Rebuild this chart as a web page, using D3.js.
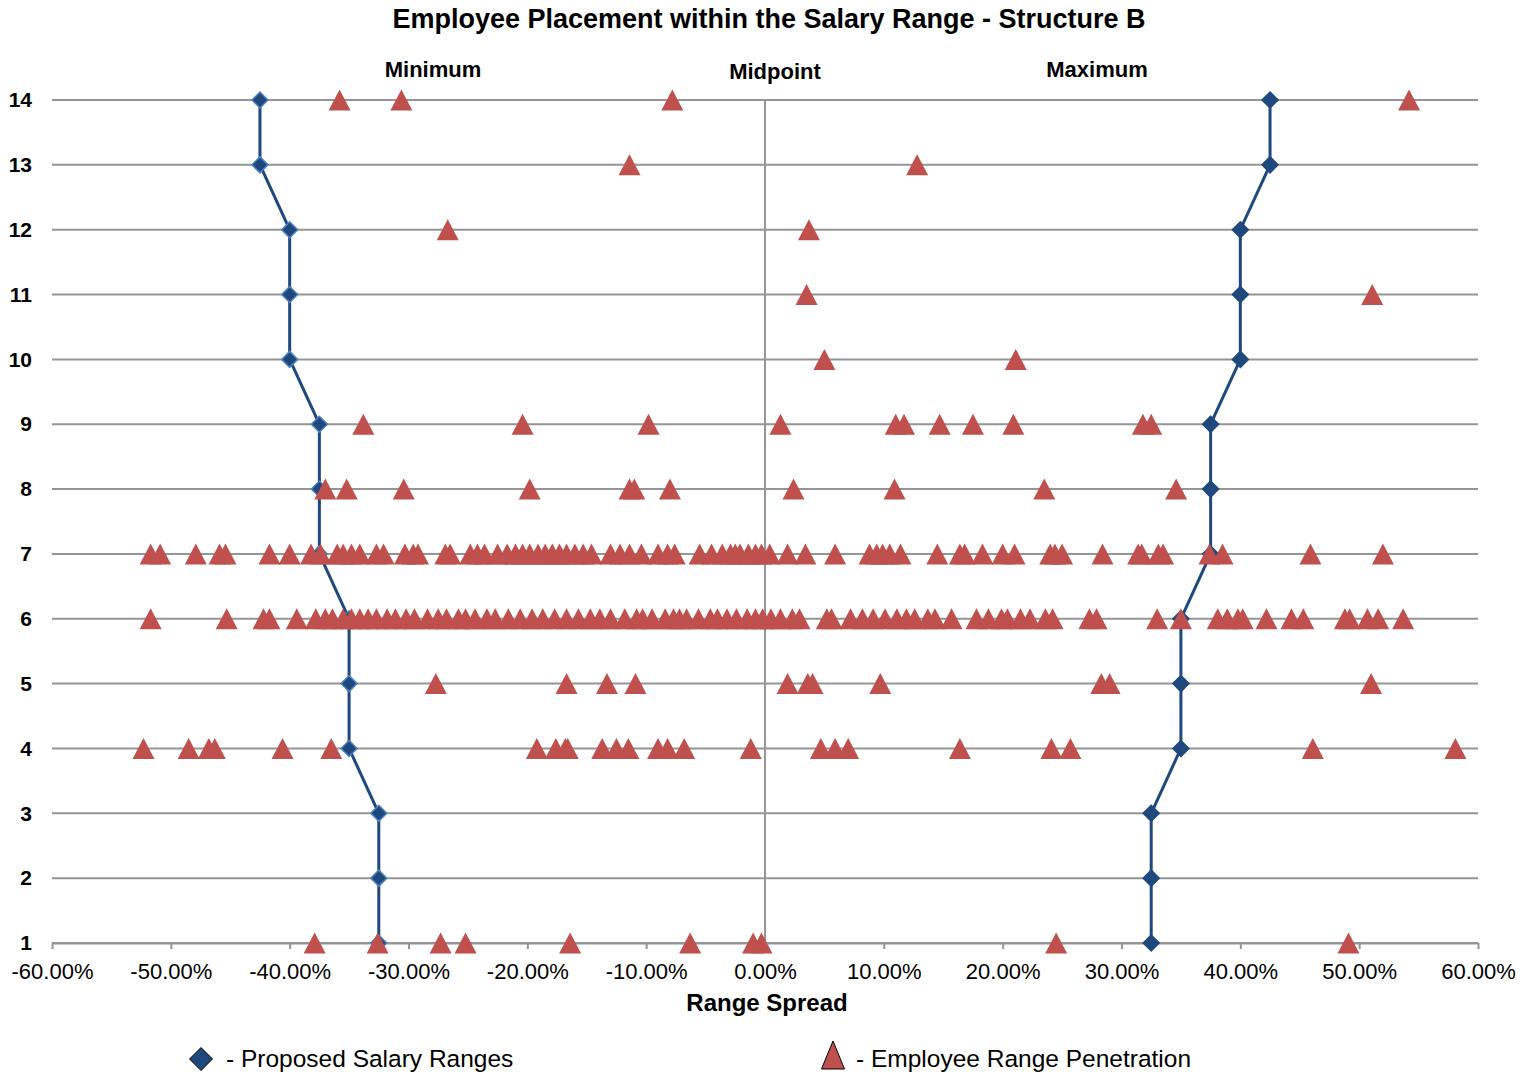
<!DOCTYPE html>
<html>
<head>
<meta charset="utf-8">
<script src="https://cdn.jsdelivr.net/npm/d3@7"></script>
<style>
  body { margin: 0; background: #fff; }
  text { font-family: "Liberation Sans", Arial, Helvetica, sans-serif; }
</style>
</head>
<body>
<svg id="chart" width="1522" height="1077"></svg>
<script>
// Salary grades (y) and proposed range spread from midpoint, in percent
const grades   = [1, 2, 3, 4, 5, 6, 7, 8, 9, 10, 11, 12, 13, 14];
const rangeMin = [-32.5, -32.5, -32.5, -35, -35, -35, -37.5, -37.5, -37.5, -40, -40, -40, -42.5, -42.5];
const rangeMax = [32.5, 32.5, 32.5, 35, 35, 35, 37.5, 37.5, 37.5, 40, 40, 40, 42.5, 42.5];

// Employee range penetration (% from midpoint) by grade
const penGrade1  = [-37.9, -32.6, -27.3, -25.2, -16.4, -6.3, -1.0, -0.3, 24.5, 49.1];
const penGrade2  = [];
const penGrade3  = [];
const penGrade4  = [-52.3, -48.5, -46.8, -46.3, -40.6, -36.5, -19.2, -17.6, -16.8, -16.6, -13.7, -12.5,
                    -11.5, -9.0, -8.2, -6.8, -1.2, 4.7, 5.9, 7.0, 16.4, 24.1, 25.7, 46.1, 58.1];
const penGrade5  = [-27.7, -16.7, -13.3, -10.9, 1.9, 3.6, 4.0, 9.7, 28.3, 29.0, 51.0];
const penGrade6  = [-51.7, -45.3, -42.2, -41.7, -39.4, -37.8, -37.0, -36.4, -35.5, -34.8, -34.1, -33.4,
                    -32.7, -31.8, -31.1, -30.2, -29.5, -28.4, -27.5, -26.8, -25.8, -25.2, -24.4, -23.4,
                    -22.7, -21.6, -20.6, -19.6, -18.7, -17.7, -16.7, -15.7, -14.7, -13.9, -13.0, -11.8,
                    -10.8, -10.3, -9.5, -8.4, -7.7, -7.2, -6.6, -5.6, -4.6, -4.0, -3.2, -2.4, -1.5, -0.8,
                    -0.2, 0.5, 1.3, 2.3, 2.9, 5.2, 5.6, 7.2, 8.2, 9.1, 10.1, 11.1, 11.9, 12.6, 13.7, 14.3,
                    15.7, 17.8, 18.8, 19.9, 20.4, 21.5, 22.3, 23.6, 24.2, 27.3, 27.9, 33.0, 35.0, 38.1,
                    38.9, 39.8, 40.2, 42.2, 44.3, 45.3, 48.8, 49.2, 50.7, 51.6, 53.7];
const penGrade7  = [-51.7, -50.9, -47.9, -45.9, -45.4, -41.7, -40.0, -38.2, -37.4, -36.0, -35.5, -34.8,
                    -34.1, -32.7, -32.1, -30.3, -29.6, -29.2, -26.9, -26.5, -24.8, -24.2, -23.6, -22.5,
                    -21.7, -21.0, -20.4, -19.8, -19.1, -18.5, -17.9, -17.3, -16.7, -16.0, -15.3, -14.6,
                    -13.0, -12.2, -11.4, -10.4, -9.0, -8.2, -7.6, -5.5, -4.5, -3.6, -2.9, -2.5, -2.1,
                    -1.4, -0.8, -0.3, 0.4, 1.9, 3.4, 5.9, 8.8, 9.4, 9.9, 10.5, 11.4, 14.5, 16.4, 16.8,
                    18.3, 20.0, 21.0, 24.0, 24.4, 25.0, 28.4, 31.4, 31.7, 33.1, 33.5, 37.4, 38.5, 45.9, 52.0];
const penGrade8  = [-37.0, -35.2, -30.4, -19.8, -11.4, -11.0, -8.0, 2.4, 10.9, 23.5, 34.6];
const penGrade9  = [-33.8, -20.4, -9.8, 1.3, 11.0, 11.7, 14.7, 17.5, 20.9, 31.8, 32.5];
const penGrade10 = [5.0, 21.1];
const penGrade11 = [3.5, 51.1];
const penGrade12 = [-26.7, 3.7];
const penGrade13 = [-11.4, 12.8];
const penGrade14 = [-35.8, -30.6, -7.8, 54.2];

const xTicks = [-60, -50, -40, -30, -20, -10, 0, 10, 20, 30, 40, 50, 60];
const yTicks = grades;

const penByGrade = [penGrade1, penGrade2, penGrade3, penGrade4, penGrade5, penGrade6, penGrade7,
                    penGrade8, penGrade9, penGrade10, penGrade11, penGrade12, penGrade13, penGrade14];
const penetration = penByGrade.flatMap((vals, i) => vals.map(v => ({ grade: grades[i], value: v })));
const minPts = grades.map((g, i) => ({ grade: g, value: rangeMin[i] }));
const maxPts = grades.map((g, i) => ({ grade: g, value: rangeMax[i] }));

const svg = d3.select("#chart");
const x = d3.scaleLinear().domain([-60, 60]).range([52, 1478]);
const y = d3.scaleLinear().domain([1, 14]).range([943, 100]);

const GRID = "#959595";
const BLUE = "#1F497D";
const BLUE_LIGHT = "#4F81BD";
const RED = "#C0504D";

// Horizontal gridlines at each grade
svg.append("g").selectAll("line").data(yTicks).join("line")
  .attr("x1", x(-60)).attr("x2", x(60))
  .attr("y1", d => y(d)).attr("y2", d => y(d))
  .attr("stroke", GRID).attr("stroke-width", 2);

// Midpoint reference line
svg.append("line")
  .attr("x1", x(0)).attr("x2", x(0))
  .attr("y1", y(14)).attr("y2", y(1))
  .attr("stroke", GRID).attr("stroke-width", 2);

// X axis
const xAxis = svg.append("g")
  .attr("transform", `translate(0,${y(1)})`)
  .call(d3.axisBottom(x).tickValues(xTicks).tickSize(6).tickSizeOuter(0)
        .tickFormat(d => d.toFixed(2) + "%"));
xAxis.select(".domain").attr("stroke", GRID).attr("stroke-width", 2);
xAxis.selectAll(".tick line").attr("stroke", GRID).attr("stroke-width", 2);
xAxis.selectAll(".tick text")
  .attr("fill", "#000").attr("font-size", 22).attr("y", 20).attr("dy", "0.71em")
  .style("font-family", '"Liberation Sans", Arial, sans-serif');

// Y axis labels (grades)
const yAxis = svg.append("g")
  .attr("transform", `translate(32,0)`)
  .call(d3.axisLeft(y).tickValues(yTicks).tickSize(0).tickFormat(d3.format("d")));
yAxis.select(".domain").remove();
yAxis.selectAll(".tick text")
  .attr("x", 0).attr("fill", "#000").attr("font-size", 21).attr("font-weight", "bold")
  .style("font-family", '"Liberation Sans", Arial, sans-serif');

// Range lines (minimum and maximum)
const line = d3.line().x(d => x(d.value)).y(d => y(d.grade));
[minPts, maxPts].forEach(pts => {
  svg.append("path").datum(pts)
    .attr("d", line).attr("fill", "none")
    .attr("stroke", BLUE).attr("stroke-width", 3).attr("stroke-linejoin", "round");
});

const diamond = r => `M0,${-r}L${r},0L0,${r}L${-r},0Z`;
const triangle = (w, h) => `M0,${-h / 2}L${w / 2},${h / 2}L${-w / 2},${h / 2}Z`;

svg.append("g").selectAll("path").data(minPts).join("path")
  .attr("d", diamond(8))
  .attr("transform", d => `translate(${x(d.value)},${y(d.grade)})`)
  .attr("fill", BLUE).attr("stroke", BLUE_LIGHT).attr("stroke-width", 1.5);
svg.append("g").selectAll("path").data(maxPts).join("path")
  .attr("d", diamond(8))
  .attr("transform", d => `translate(${x(d.value)},${y(d.grade)})`)
  .attr("fill", BLUE).attr("stroke", BLUE).attr("stroke-width", 1.5);

// Employee penetration markers
svg.append("g").selectAll("path").data(penetration).join("path")
  .attr("d", triangle(22, 21))
  .attr("transform", d => `translate(${x(d.value)},${y(d.grade)})`)
  .attr("fill", RED);

// Titles and annotations
svg.append("text").attr("x", 769).attr("y", 28).attr("text-anchor", "middle")
  .attr("font-size", 27).attr("font-weight", "bold")
  .text("Employee Placement within the Salary Range - Structure B");
svg.append("text").attr("x", 433).attr("y", 77).attr("text-anchor", "middle")
  .attr("font-size", 22).attr("font-weight", "bold").text("Minimum");
svg.append("text").attr("x", 775).attr("y", 79).attr("text-anchor", "middle")
  .attr("font-size", 22).attr("font-weight", "bold").text("Midpoint");
svg.append("text").attr("x", 1097).attr("y", 77).attr("text-anchor", "middle")
  .attr("font-size", 22).attr("font-weight", "bold").text("Maximum");
svg.append("text").attr("x", 767).attr("y", 1011).attr("text-anchor", "middle")
  .attr("font-size", 24).attr("font-weight", "bold").text("Range Spread");

// Legend
svg.append("path").attr("d", diamond(11.5))
  .attr("transform", "translate(201,1059)")
  .attr("fill", BLUE).attr("stroke", "#000").attr("stroke-width", 1);
svg.append("text").attr("x", 226).attr("y", 1067)
  .attr("font-size", 24.5).text("- Proposed Salary Ranges");
svg.append("path").attr("d", triangle(23, 28))
  .attr("transform", "translate(833,1055)")
  .attr("fill", RED).attr("stroke", "#000").attr("stroke-width", 1);
svg.append("text").attr("x", 856).attr("y", 1067)
  .attr("font-size", 24.5).text("- Employee Range Penetration");
</script>
</body>
</html>
